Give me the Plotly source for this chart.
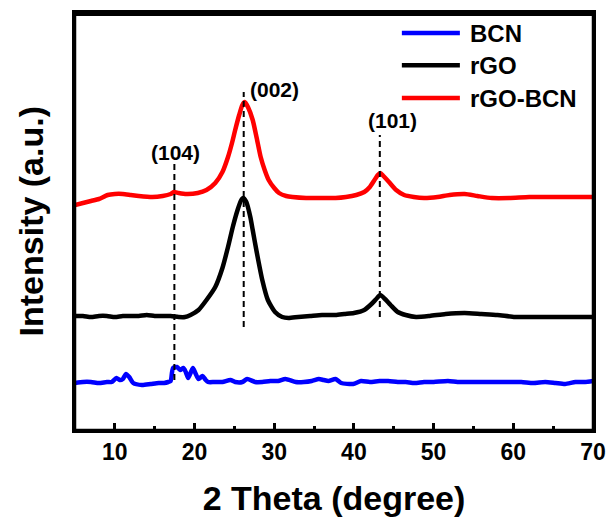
import plotly.graph_objects as go

# ---------------- data ----------------
two_theta_bcn = [5, 6, 7, 8, 9, 9.6, 10.2, 10.6, 11.0, 11.4, 11.8, 12.3, 13.4, 14.5, 15.5, 16.2, 16.7, 17.0,
                 17.3, 17.8, 18.2, 18.6, 18.9, 19.2, 19.5, 19.8, 20.1, 20.5, 21.0, 21.4, 21.7, 22.5, 23.5,
                 24.5, 25.1, 26.0, 26.6, 27.6, 28.5, 29.5, 30.5, 31.4, 32.7, 33.7, 34.7, 35.6, 36.2, 36.8,
                 37.7, 38.4, 39.9, 40.9, 42.0, 43.2, 44.3, 45.5, 46.5, 47.6, 48.8, 50.0, 51.8, 53.0, 54.5,
                 56.0, 58.1, 59.5, 61.0, 62.5, 64.0, 65.3, 66.5, 67.8, 69.0, 70.0]
bcn = [47, 48, 48, 47, 48, 48, 52, 50, 51, 56, 53, 47, 45, 46, 47, 47, 48, 49,
       62, 63, 60, 62, 58, 52, 57, 62, 57, 51, 54, 50, 48, 48, 48,
       50, 48, 48, 51, 48, 48, 49, 49, 51, 48, 48, 49, 51, 50, 49,
       51, 47, 46, 49, 48, 49, 49, 48, 48, 47, 48, 48, 49, 48, 48,
       48, 48, 48, 48, 47, 48, 47, 46, 48, 48, 49]

two_theta_rgo = [5, 6, 7, 8, 9, 10, 11, 12, 13, 14, 15, 16, 17, 18, 18.8, 19.5, 20.5, 21.5, 22.6, 23.5,
                 24.2, 24.8, 25.4, 25.8, 26.1, 26.5, 27.0, 27.3, 27.8, 28.5, 29.2, 30.1, 31.0, 31.8,
                 33, 34.5, 36, 36.8, 37.7, 38.8, 40.0, 41.3, 42.2, 42.8, 43.3, 43.9, 44.6, 45.5, 46.5,
                 47.8, 49.5, 51.5, 53.9, 56.0, 58.0, 60.2, 62.5, 65.0, 67.5, 70.0]
rgo = [114, 114, 113, 114, 114, 113, 114, 114, 114, 115, 114, 114, 114, 113, 113, 115, 120, 130, 143, 162,
       183, 203, 220, 229, 232, 228, 213, 200, 178, 150, 130, 118, 113, 112,
       113, 114, 115, 115, 115, 116, 117, 120, 126, 131, 135, 131, 125, 118, 115,
       113, 114, 116, 117, 116, 115, 113, 113, 113, 113, 113]

two_theta_rgo_bcn = [5, 6, 7, 8, 9.1, 10, 11, 12, 13, 14.7, 16, 17.0, 17.4, 18.0, 19.0, 20.4, 21.5, 22.6,
                     23.5, 24.2, 24.7, 25.1, 25.6, 26.0, 26.3, 26.7, 27.3, 27.8, 28.3, 28.8, 29.3, 30.0,
                     30.6, 31.5, 32.3, 34, 36, 37.7, 39.0, 40.3, 41.3, 42.0, 42.5, 43.0, 43.3, 43.7, 44.4,
                     45.3, 46.3, 47.5, 48.8, 50.5, 52.0, 53.9, 55.5, 57.3, 59.5, 62.0, 64.5, 67.0, 70.0]
rgo_bcn = [225, 227, 229, 231, 235, 236, 236, 235, 234, 233, 234, 236, 238, 237, 236, 237, 240, 247,
           258, 273, 287, 300, 315, 325, 328, 323, 310, 292, 273, 260, 250, 242,
           237, 234, 233, 232, 232, 232, 233, 235, 238, 243, 249, 255, 257, 254, 248,
           240, 235, 233, 232, 233, 235, 236, 234, 232, 232, 233, 233, 233, 233]

x_ticks = [10, 20, 30, 40, 50, 60, 70]
x_tick_labels = ["10", "20", "30", "40", "50", "60", "70"]

peak_positions = [17.47, 26.17, 43.25]
peak_line_bottom = [50, 103, 113]
peak_line_top = [268, 338, 295]
peak_labels = ["(104)", "(002)", "(101)"]
peak_label_x = [17.6, 30.0, 44.9]
peak_label_y = [278, 341, 310]

series_names = ["BCN", "rGO", "rGO-BCN"]
series_colors = ["#0000FF", "#000000", "#FF0000"]

# ---------------- figure ----------------
FONT = "Arial, 'Liberation Sans', sans-serif"
fig = go.Figure()

for xs, ys, name, col in [(two_theta_bcn, bcn, series_names[0], series_colors[0]),
                          (two_theta_rgo, rgo, series_names[1], series_colors[1]),
                          (two_theta_rgo_bcn, rgo_bcn, series_names[2], series_colors[2])]:
    fig.add_trace(go.Scatter(x=xs, y=ys, mode="lines", name=name,
                             line=dict(color=col, width=4.5, shape="spline", smoothing=0.6),
                             showlegend=False, cliponaxis=True))

shapes = []
annotations = []
for px, yb, yt in zip(peak_positions, peak_line_bottom, peak_line_top):
    shapes.append(dict(type="line", xref="x", yref="y", x0=px, x1=px, y0=yb, y1=yt,
                       line=dict(color="black", width=2, dash="6px,4px"), layer="above"))
for lab, lx, ly in zip(peak_labels, peak_label_x, peak_label_y):
    annotations.append(dict(text=f"<b>{lab}</b>", x=lx, y=ly, xref="x", yref="y",
                            showarrow=False, font=dict(family=FONT, size=21, color="black"),
                            xanchor="center", yanchor="middle"))

# frame (top edge drawn explicitly as well)
shapes.append(dict(type="rect", xref="paper", yref="paper", x0=0, x1=1, y0=0, y1=1,
                   line=dict(color="black", width=2.5), layer="above"))
shapes.append(dict(type="line", xref="paper", yref="paper", x0=0, x1=1, y0=0.997, y1=0.997,
                   line=dict(color="black", width=3.5), layer="above"))

# manual legend
legend_y = [0.952, 0.875, 0.796]
for name, col, ly in zip(series_names, series_colors, legend_y):
    shapes.append(dict(type="line", xref="paper", yref="paper", x0=0.631, x1=0.743, y0=ly, y1=ly,
                       line=dict(color=col, width=4.5)))
    annotations.append(dict(text=f"<b>{name}</b>", x=0.7585, y=ly, xref="paper", yref="paper",
                            showarrow=False, xanchor="left", yanchor="middle",
                            font=dict(family=FONT, size=24, color="black")))

# y-axis title as a rotated annotation for exact placement
annotations.append(dict(text="<b>Intensity (a.u.)</b>", x=-0.085, y=0.5, xref="paper", yref="paper",
                        textangle=-90, showarrow=False, xanchor="center", yanchor="middle",
                        font=dict(family=FONT, size=34, color="black")))

fig.update_layout(
    width=609, height=523,
    margin=dict(l=75, r=16, t=13, b=93, autoexpand=False),
    plot_bgcolor="white", paper_bgcolor="white",
    shapes=shapes, annotations=annotations,
    font=dict(family=FONT, color="black"),
    xaxis=dict(range=[5, 70], tickmode="array", tickvals=x_ticks, ticktext=[f"<b>{t}</b>" for t in x_tick_labels],
               ticks="inside", ticklen=7, tickwidth=2.5, tickcolor="black", automargin=False,
               minor=dict(ticks="inside", ticklen=4, tickwidth=2.5, tickcolor="black", dtick=5, tick0=5, showgrid=False),
               showline=True, linecolor="black", linewidth=2.5, mirror=True, showgrid=False, zeroline=False,
               tickfont=dict(family=FONT, size=23, color="black"),
               title=dict(text="<b>2 Theta (degree)</b>", font=dict(family=FONT, size=34, color="black"), standoff=22)),
    yaxis=dict(range=[0, 417], showticklabels=False, ticks="", automargin=False,
               showline=True, linecolor="black", linewidth=2.5, mirror=True, showgrid=False, zeroline=False),
)

fig.write_html("out.html", config={"displayModeBar": False},
               post_script="document.body.style.margin='0';document.body.style.overflow='hidden';")
